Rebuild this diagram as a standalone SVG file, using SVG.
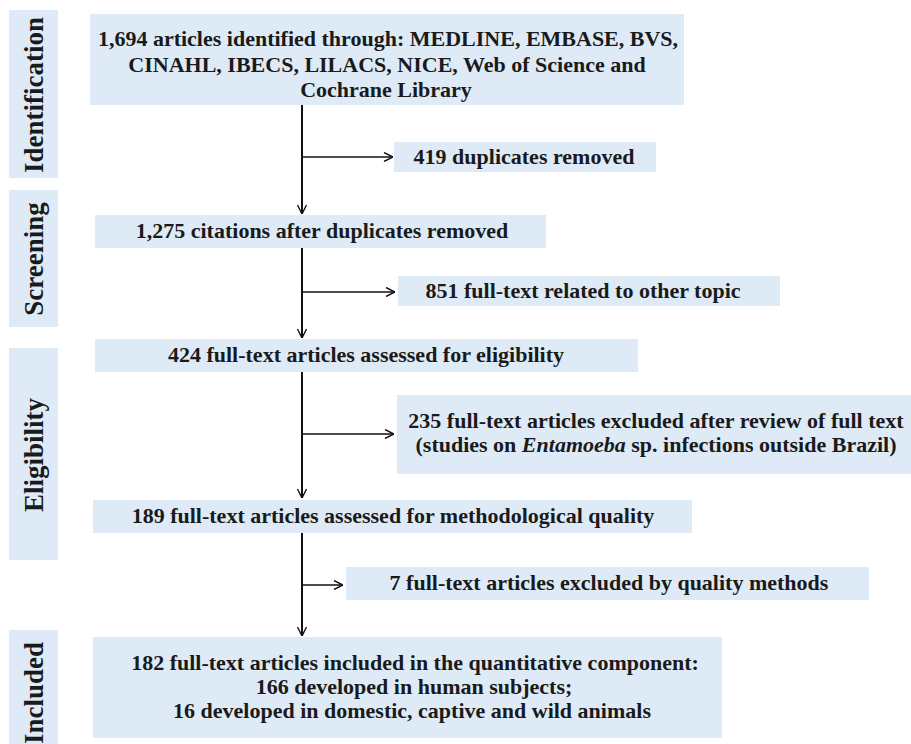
<svg xmlns="http://www.w3.org/2000/svg" width="911" height="744" viewBox="0 0 911 744">
<style>
.box{fill:#deebf7;}
.t{font-family:"Liberation Serif","Times New Roman",serif;font-weight:bold;font-size:22px;fill:#1a1a1a;text-anchor:middle;}
.lab{font-family:"Liberation Serif","Times New Roman",serif;font-weight:bold;font-size:27px;fill:#1a1a1a;text-anchor:middle;}
.v{stroke:#111;stroke-width:2;fill:none;}
.h{stroke:#111;stroke-width:1.4;fill:none;}
</style>
<defs>
<marker id="ah" viewBox="0 0 10 10" refX="10" refY="5" markerWidth="10" markerHeight="10" markerUnits="userSpaceOnUse" orient="auto">
<path d="M1,0.5 L10,5 L1,9.5" fill="none" stroke="#111" stroke-width="1.4"/>
</marker>
</defs>
<rect width="911" height="744" fill="#ffffff"/>
<g id="stage-labels">
<g id="lab-identification"><rect class="box" x="9" y="10" width="49" height="168"/><text class="lab" transform="translate(43,95) rotate(-90)">Identification</text></g>
<g id="lab-screening"><rect class="box" x="9" y="190" width="49" height="137"/><text class="lab" transform="translate(43,259) rotate(-90)">Screening</text></g>
<g id="lab-eligibility"><rect class="box" x="9" y="348" width="49" height="212"/><text class="lab" transform="translate(43,455) rotate(-90)">Eligibility</text></g>
<g id="lab-included"><rect class="box" x="9" y="630" width="49" height="120"/><text class="lab" transform="translate(43,693) rotate(-90)">Included</text></g>
</g>
<g id="n-identified"><rect class="box" x="90" y="14" width="594" height="91"/>
<text class="t" x="388" y="46">1,694 articles identified through: MEDLINE, EMBASE, BVS,</text>
<text class="t" x="387" y="72">CINAHL, IBECS, LILACS, NICE, Web of Science and</text>
<text class="t" x="386" y="97">Cochrane Library</text></g>
<g id="n-duplicates"><rect class="box" x="394" y="142" width="262" height="30"/><text class="t" x="524" y="164">419 duplicates removed</text></g>
<g id="n-citations"><rect class="box" x="95" y="215" width="451" height="33"/><text class="t" x="322" y="238">1,275 citations after duplicates removed</text></g>
<g id="n-othertopic"><rect class="box" x="398" y="276" width="382" height="30"/><text class="t" x="583" y="298">851 full-text related to other topic</text></g>
<g id="n-eligibility"><rect class="box" x="95" y="339" width="543" height="33"/><text class="t" x="366" y="362">424 full-text articles assessed for eligibility</text></g>
<g id="n-excluded235"><rect class="box" x="397" y="395" width="514" height="79"/>
<text class="t" x="656" y="428">235 full-text articles excluded after review of full text</text>
<text class="t" x="656" y="452">(studies on <tspan font-style="italic">Entamoeba</tspan> sp. infections outside Brazil)</text></g>
<g id="n-quality"><rect class="box" x="93" y="500" width="599" height="33"/><text class="t" x="393" y="523">189 full-text articles assessed for methodological quality</text></g>
<g id="n-excluded7"><rect class="box" x="346" y="567" width="523" height="33"/><text class="t" x="609" y="590">7 full-text articles excluded by quality methods</text></g>
<g id="n-included"><rect class="box" x="93" y="637" width="629" height="101"/>
<text class="t" x="415" y="670">182 full-text articles included in the quantitative component:</text>
<text class="t" x="414" y="694">166 developed in human subjects;</text>
<text class="t" x="412" y="718">16 developed in domestic, captive and wild animals</text></g>
<g id="connectors">
<line class="v" x1="302" y1="105" x2="302" y2="214" marker-end="url(#ah)"/>
<line class="h" x1="302" y1="157" x2="393" y2="157" marker-end="url(#ah)"/>
<line class="v" x1="302" y1="248" x2="302" y2="338" marker-end="url(#ah)"/>
<line class="h" x1="302" y1="292" x2="395" y2="292" marker-end="url(#ah)"/>
<line class="v" x1="302" y1="372" x2="302" y2="498" marker-end="url(#ah)"/>
<line class="h" x1="302" y1="434" x2="394" y2="434" marker-end="url(#ah)"/>
<line class="v" x1="302" y1="533" x2="302" y2="636" marker-end="url(#ah)"/>
<line class="h" x1="302" y1="585" x2="343" y2="585" marker-end="url(#ah)"/>
</g>
</svg>
